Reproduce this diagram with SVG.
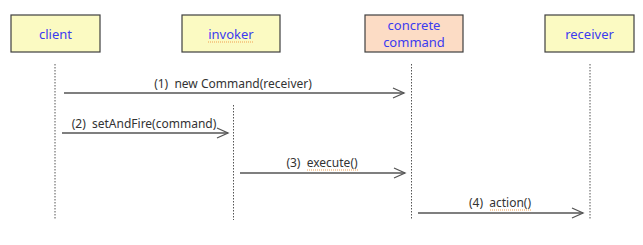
<svg xmlns="http://www.w3.org/2000/svg" width="643" height="245" viewBox="0 0 643 245">
<style>
.box{fill:#fbfac2;stroke:#3f3f3f;stroke-width:1.2}
.cc{fill:#fcdcc5}
.nt{font-family:"Noto Sans","Liberation Sans",sans-serif;font-size:13px;fill:#3b3bf0;text-anchor:middle}
.life{stroke:#555;stroke-width:1;stroke-dasharray:1.5 1.5;fill:none}
.msg{stroke:#555;stroke-width:1.3;fill:none}
.lb{font-family:"Noto Sans","Liberation Sans",sans-serif;font-size:12px;fill:#333;text-anchor:middle;white-space:pre}
.sp{stroke:#f0a050;stroke-width:1;stroke-dasharray:1 1;fill:none}
</style>
<defs>
<marker id="ah" markerWidth="14" markerHeight="12" refX="12" refY="6" orient="auto" markerUnits="userSpaceOnUse">
<path d="M1,1 L12,6 L1,11" fill="none" stroke="#555" stroke-width="1.3"/>
</marker>
</defs>
<rect width="643" height="245" fill="#fff"/>
<g id="client">
<rect class="box" x="11" y="15" width="89" height="37"/>
<text class="nt" x="55.5" y="38.5">client</text>
</g>
<g id="invoker">
<rect class="box" x="182" y="15" width="98" height="37"/>
<text class="nt" x="231" y="38.5">invoker</text>
<line class="sp" x1="208" y1="42" x2="254" y2="42"/>
</g>
<g id="concrete_command">
<rect class="box cc" x="365" y="15" width="98" height="37"/>
<text class="nt" x="414" y="29.5" font-size="12.5">concrete</text>
<text class="nt" x="414" y="47" font-size="12.5">command</text>
</g>
<g id="receiver">
<rect class="box" x="545" y="15" width="89" height="37"/>
<text class="nt" x="589.5" y="38.5">receiver</text>
</g>
<g id="lifelines">
<line class="life" x1="55" y1="64" x2="55" y2="220"/>
<line class="life" x1="233.5" y1="105" x2="233.5" y2="220"/>
<line class="life" x1="411.5" y1="64" x2="411.5" y2="220"/>
<line class="life" x1="590" y1="64" x2="590" y2="220"/>
</g>
<g id="connectors">
<line class="msg" x1="64" y1="93" x2="404" y2="93" marker-end="url(#ah)"/>
<text class="lb" x="233" y="88" xml:space="preserve">(1)  new Command(receiver)</text>
<line class="msg" x1="62" y1="133" x2="228" y2="133" marker-end="url(#ah)"/>
<text class="lb" x="144" y="128" xml:space="preserve">(2)  setAndFire(command)</text>
<line class="msg" x1="240" y1="173" x2="405" y2="173" marker-end="url(#ah)"/>
<text class="lb" x="322" y="167" xml:space="preserve">(3)  execute()</text>
<line class="sp" x1="307" y1="170" x2="359" y2="170"/>
<line class="msg" x1="418" y1="213" x2="583" y2="213" marker-end="url(#ah)"/>
<text class="lb" x="500" y="207" xml:space="preserve">(4)  action()</text>
<line class="sp" x1="490" y1="210" x2="532" y2="210"/>
</g>
</svg>
